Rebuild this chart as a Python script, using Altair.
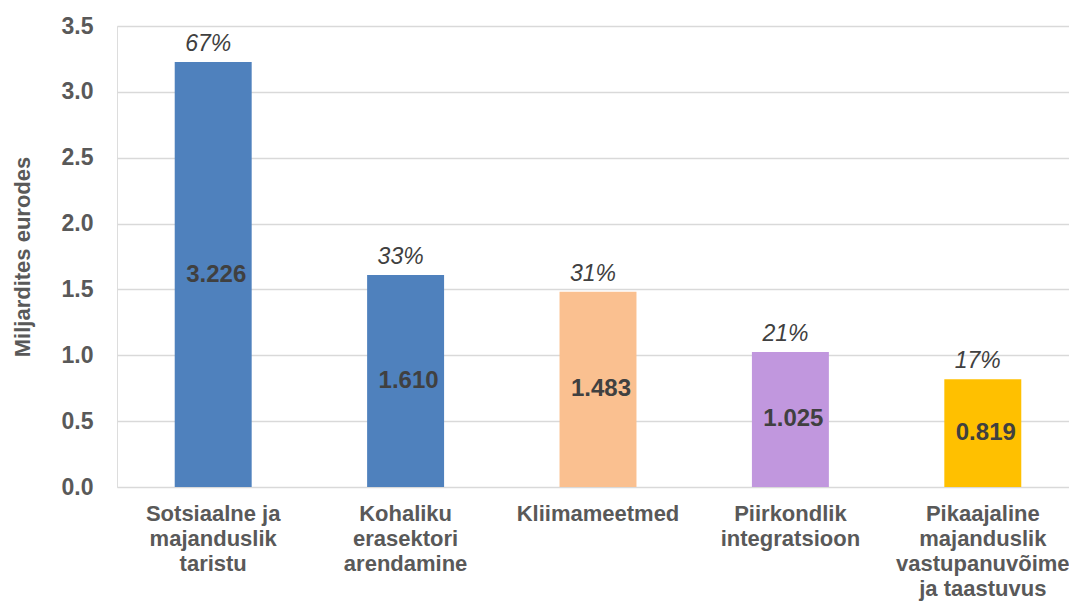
import altair as alt
import pandas as pd

categories = [
    "Sotsiaalne ja|majanduslik|taristu",
    "Kohaliku|erasektori|arendamine",
    "Kliimameetmed",
    "Piirkondlik|integratsioon",
    "Pikaajaline|majanduslik|vastupanuvõime|ja taastuvus",
]
values = [3.226, 1.610, 1.483, 1.025, 0.819]
value_labels = ["3.226", "1.610", "1.483", "1.025", "0.819"]
percents = ["67%", "33%", "31%", "21%", "17%"]
colors = ["#4f81bd", "#4f81bd", "#fac090", "#c197de", "#ffc000"]
y_ticks = [0.0, 0.5, 1.0, 1.5, 2.0, 2.5, 3.0, 3.5]

df = pd.DataFrame({
    "cat": categories,
    "value": values,
    "vlabel": value_labels,
    "pct": percents,
    "color": colors,
})

FONT = "Liberation Sans"
x_enc = alt.X(
    "cat:N",
    sort=categories,
    scale=alt.Scale(paddingInner=0.6, paddingOuter=0.3, range=[0, 962]),
    axis=alt.Axis(
        title=None,
        labelAngle=0,
        labelExpr="split(datum.label, '|')",
        labelFont=FONT,
        labelFontSize=22,
        labelFontWeight="bold",
        labelColor="#595959",
        labelLineHeight=25,
        labelPadding=16,
        labelBaseline="top",
        labelBound=False,
        labelOverlap=False,
        labelLimit=400,
        ticks=False,
        domain=False,
        grid=False,
    ),
)

base = alt.Chart(df)

bars = base.mark_bar().encode(
    x=x_enc,
    y=alt.Y(
        "value:Q",
        scale=alt.Scale(domain=[0, 3.5], nice=False),
        axis=alt.Axis(
            title="Miljardites eurodes",
            values=y_ticks,
            format=".1f",
            titleFont=FONT,
            titleFontSize=22,
            titleFontWeight="bold",
            titleColor="#595959",
            titlePadding=27,
            labelFont=FONT,
            labelFontSize=23,
            labelFontWeight="bold",
            labelColor="#595959",
            labelPadding=24,
            ticks=False,
            domain=False,
            grid=True,
            gridColor="#d9d9d9",
            gridWidth=1.5,
        ),
    ),
    color=alt.Color("color:N", scale=None, legend=None),
)

mid_labels = base.transform_calculate(mid="datum.value / 2").mark_text(
    font=FONT, fontSize=24, fontWeight="bold", color="#404040",
    baseline="middle", align="center", dx=3,
).encode(
    x=alt.X("cat:N", sort=categories),
    y=alt.Y("mid:Q"),
    text="vlabel:N",
)

pct_labels = base.mark_text(
    font=FONT, fontSize=23, fontStyle="italic", color="#404040",
    baseline="alphabetic", align="center", dx=-5, dy=-11,
).encode(
    x=alt.X("cat:N", sort=categories),
    y=alt.Y("value:Q"),
    text="pct:N",
)

chart = alt.layer(bars, mid_labels, pct_labels).properties(
    width=952,
    height=461,
    autosize=alt.AutoSizeParams(type="none"),
    padding={"left": 109, "top": 18, "right": 0, "bottom": 114},
).configure_view(strokeWidth=0).configure(background="white")

chart.save("out.html", embed_options={"renderer": "svg", "actions": False})
